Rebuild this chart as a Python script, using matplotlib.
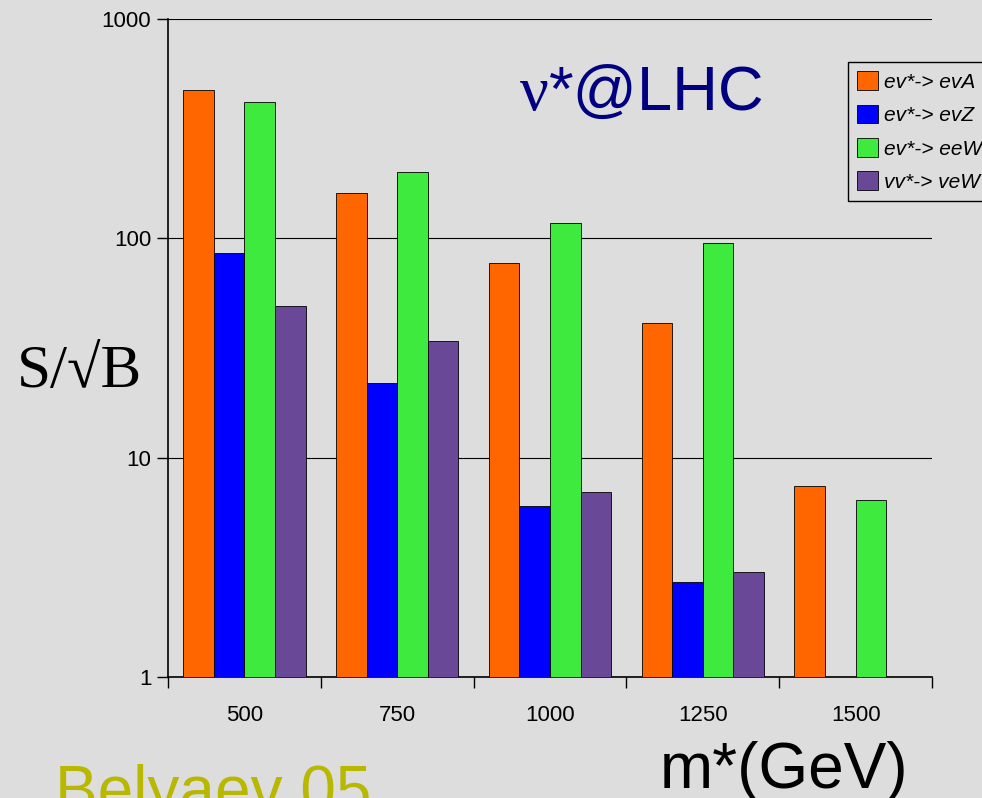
import numpy as np
import matplotlib
matplotlib.use("Agg")
import matplotlib.pyplot as plt

plt.rcParams["font.family"] = ["Liberation Sans", "DejaVu Sans"]

masses = ["500", "750", "1000", "1250", "1500"]
series = ["ev*-> evA", "ev*-> evZ", "ev*-> eeW", "vv*-> veW"]
evA = [474, 161, 77, 41, 7.4]
evZ = [86, 22, 6.0, 2.7, np.nan]
eeW = [419, 200, 117, 95, 6.4]
veW = [49, 34, 7.0, 3.0, np.nan]
colors = ["#ff6600", "#0000ff", "#3dea3d", "#6a4898"]

bg = "#dddddd"
fig = plt.figure(figsize=(9.82, 7.98), dpi=100, facecolor=bg)
ax = fig.add_axes([168 / 982, 1 - 677 / 798, 764 / 982, 658 / 798])
ax.set_facecolor(bg)

x = np.arange(len(masses))
w = 0.2
for i, (vals, lab) in enumerate(zip([evA, evZ, eeW, veW], series)):
    ax.bar(x + (i - 1.5) * w, vals, w, color=colors[i],
           edgecolor="black", linewidth=0.6, label=lab, zorder=3)

ax.set_yscale("log")
ax.set_ylim(1, 1000)
ax.set_xlim(-0.5, len(masses) - 0.5)
ax.set_yticks([1, 10, 100, 1000])
ax.set_yticklabels(["1", "10", "100", "1000"])
ax.yaxis.set_minor_locator(matplotlib.ticker.NullLocator())
ax.set_xticks(x)
ax.set_xticklabels(masses)
ax.set_xticks(np.arange(len(masses) + 1) - 0.5, minor=True)
ax.tick_params(axis="x", which="major", length=0, pad=20, labelsize=16)
ax.tick_params(axis="x", which="minor", length=8, width=1, direction="out")
ax.tick_params(axis="y", which="major", length=8, width=1, labelsize=16, pad=4)
ax.grid(axis="y", which="major", color="black", linewidth=0.8, zorder=0)
for s in ["top", "right"]:
    ax.spines[s].set_visible(False)
ax.spines["left"].set_linewidth(1.2)
ax.spines["bottom"].set_linewidth(1.2)

leg = ax.legend(loc="upper left", bbox_to_anchor=(848 / 982, 1 - 62 / 798),
                bbox_transform=fig.transFigure, prop={"style": "italic", "size": 15},
                frameon=True, fancybox=False, facecolor=bg, edgecolor="black",
                handlelength=1.0, handleheight=1.0, handletextpad=0.3,
                labelspacing=0.62, borderpad=0.45, borderaxespad=0)
leg.get_frame().set_linewidth(1.0)
leg.get_frame().set_alpha(1)

fig.text(520 / 982, (798 - 110) / 798, "ν", color="#000080", fontsize=46,
         family=["Liberation Serif", "DejaVu Serif"], va="baseline", ha="left")
fig.text(549 / 982, (798 - 110) / 798, "*@LHC", color="#000080",
         fontsize=45.5, va="baseline", ha="left")
fig.text(17 / 982, (798 - 387) / 798, "S/√B", fontsize=44,
         family=["Liberation Serif", "DejaVu Serif"], va="baseline", ha="left")
fig.text(660 / 982, (798 - 788) / 798, "m*(GeV)", fontsize=46,
         va="baseline", ha="left")
fig.text(55 / 982, (798 - 811) / 798, "Belyaev 05", fontsize=46,
         color="#b8b800", va="baseline", ha="left")

fig.savefig("out.png", dpi=100, facecolor=bg)
